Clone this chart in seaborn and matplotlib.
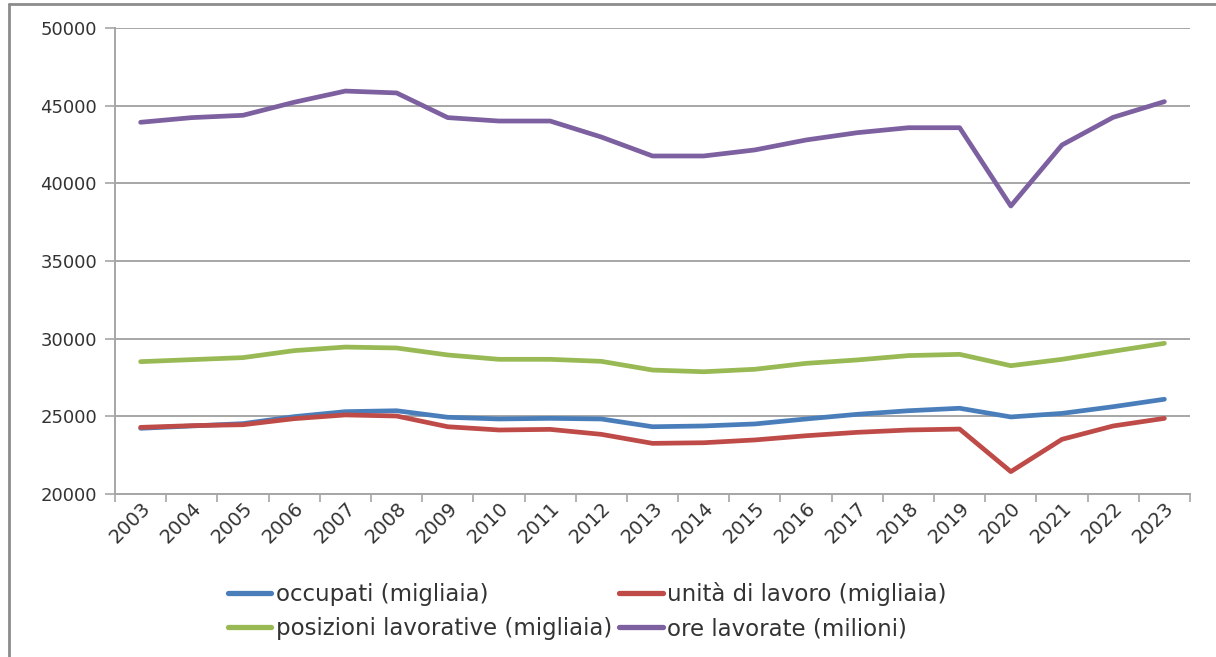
import matplotlib
matplotlib.use("Agg")
import matplotlib.pyplot as plt
from matplotlib.lines import Line2D
import numpy as np
import pandas as pd
import seaborn as sns

years = [str(y) for y in range(2003, 2024)]

occupati = [24230, 24380, 24530, 24980, 25300, 25360, 24940, 24830, 24870, 24830,
            24330, 24380, 24510, 24830, 25130, 25360, 25520, 24960, 25190, 25620, 26100]
unita_lavoro = [24290, 24400, 24460, 24850, 25090, 25020, 24330, 24120, 24160, 23840,
                23260, 23300, 23480, 23750, 23970, 24120, 24180, 21440, 23520, 24380, 24870]
posizioni = [28520, 28650, 28780, 29230, 29460, 29400, 28950, 28670, 28670, 28540,
             27980, 27870, 28030, 28410, 28630, 28910, 28990, 28260, 28670, 29190, 29700]
ore_lavorate = [43930, 44230, 44380, 45220, 45940, 45820, 44230, 44010, 44010, 42980,
                41760, 41760, 42150, 42790, 43260, 43580, 43580, 38540, 42470, 44250, 45260]

series_names = ["occupati (migliaia)", "unità di lavoro (migliaia)",
                "posizioni lavorative (migliaia)", "ore lavorate (milioni)"]
series_values = [occupati, unita_lavoro, posizioni, ore_lavorate]
colors = ["#4A7EBB", "#BE4B48", "#98B954", "#7D60A0"]

y_ticks = [20000, 25000, 30000, 35000, 40000, 45000, 50000]

df = pd.concat(
    [pd.DataFrame({"pos": np.arange(len(years)), "anno": years, "valore": vals, "serie": name})
     for name, vals in zip(series_names, series_values)],
    ignore_index=True,
)

sns.set_theme(style="white")
plt.rcParams["font.family"] = ["DejaVu Sans"]
text_color = "#333333"
grid_color = "#a6a6a6"

fig = plt.figure(figsize=(12.16, 6.57), dpi=100)
ax = fig.add_axes([0.0946, 0.2481, 0.8840, 0.7093])

sns.lineplot(data=df, x="pos", y="valore", hue="serie", hue_order=series_names,
             palette=colors, linewidth=3.4, ax=ax, legend=False, sort=False)

# axes styling
ax.set_xlim(-0.5, len(years) - 0.5)
ax.set_ylim(20000, 50000)
ax.set_yticks(y_ticks)
ax.set_yticklabels([str(v) for v in y_ticks], fontsize=13, color=text_color)
ax.yaxis.grid(True, color=grid_color, linewidth=1.4)
ax.xaxis.grid(False)
ax.set_axisbelow(True)

ax.set_xticks(np.arange(-0.5, len(years), 1.0))
ax.set_xticklabels([])
ax.set_xticks(np.arange(len(years)), minor=True)
ax.set_xticklabels(years, minor=True, rotation=45, ha="right", rotation_mode="anchor",
                   fontsize=14, color=text_color)
ax.tick_params(axis="x", which="major", direction="out", length=6, width=1.2,
               color=grid_color, bottom=True)
ax.tick_params(axis="x", which="minor", length=0, pad=3)
ax.tick_params(axis="y", direction="out", length=7, width=1.2, color=grid_color,
               left=True, pad=6)
ax.set_xlabel("")
ax.set_ylabel("")

for side in ["top", "right"]:
    ax.spines[side].set_visible(False)
for side in ["left", "bottom"]:
    ax.spines[side].set_color(grid_color)
    ax.spines[side].set_linewidth(1.4)

# legend: two columns, two rows
handles = [Line2D([0], [0], color=c, linewidth=3.8, solid_capstyle="round") for c in colors]
order = [0, 2, 1, 3]
leg = fig.legend([handles[i] for i in order], [series_names[i] for i in order],
                 loc="center", bbox_to_anchor=(0.483, 0.07), ncol=2, frameon=False,
                 fontsize=16.5, handlelength=1.9, handletextpad=0.2, columnspacing=0.3,
                 labelspacing=0.5)
for t in leg.get_texts():
    t.set_color(text_color)

# outer frame of the chart box
frame_color = "#8c8c8c"
fig.add_artist(Line2D([9 / 1216, 1.0], [1 - 4 / 657, 1 - 4 / 657],
                      transform=fig.transFigure, color=frame_color, linewidth=2))
fig.add_artist(Line2D([9 / 1216, 9 / 1216], [0.0, 1 - 4 / 657],
                      transform=fig.transFigure, color=frame_color, linewidth=2))

fig.savefig("out.png", dpi=100)
